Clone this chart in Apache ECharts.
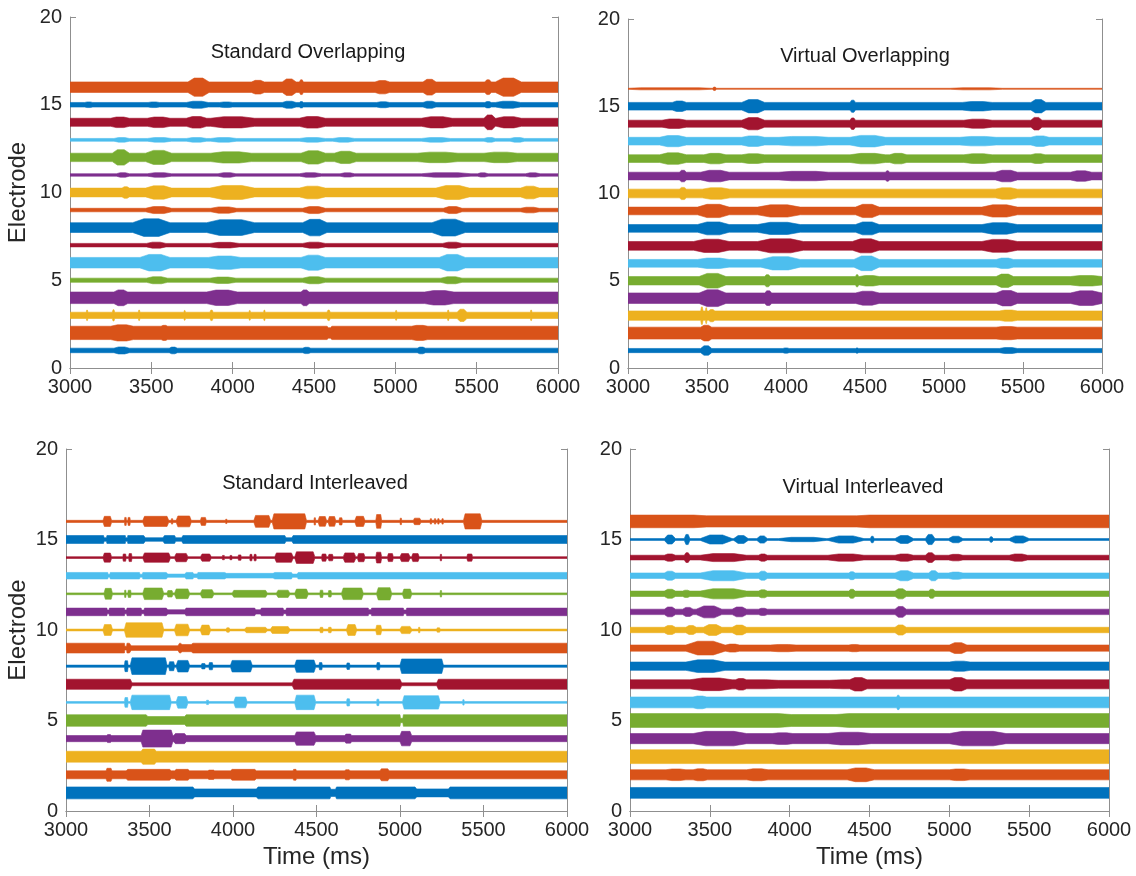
<!DOCTYPE html>
<html><head><meta charset="utf-8">
<script src="https://cdn.jsdelivr.net/npm/echarts@6/dist/echarts.min.js"></script>
<style>html,body{margin:0;padding:0;background:#fff}#c{width:1136px;height:876px}</style>
</head><body><div id="c"></div>
<script>
// ---------- axes / categories ----------
const ELECTRODES = [1,2,3,4,5,6,7,8,9,10,11,12,13,14,15,16];
const TIME_MIN = 3000, TIME_MAX = 6000, TIME_STEP = 500;
const ELEC_MIN = 0, ELEC_MAX = 20, ELEC_STEP = 5;
const PANEL_TITLES = ['Standard Overlapping', 'Virtual Overlapping', 'Standard Interleaved', 'Virtual Interleaved'];
const X_NAME = 'Time (ms)';
const Y_NAME = 'Electrode';
const COLORS = ['#0072BD', '#D95319', '#EDB120', '#7E2F8E', '#77AC30', '#4DBEEE', '#A2142F'];

// ---------- data: baseline half-amplitude per electrode (1..16) and bursts [t0, t1, halfAmplitude] ----------
// Standard Overlapping
const soBase = [0.13, 0.38, 0.18, 0.33, 0.12, 0.30, 0.10, 0.28, 0.10, 0.25, 0.07, 0.24, 0.08, 0.23, 0.13, 0.30];
const soBursts = [
  [[3270,3365,0.2],[3610,3660,0.19],[4430,4480,0.18],[5135,5185,0.19]],
  [[3250,3390,0.46],[3560,3600,0.43],[4580,4610,0.3],[5100,5200,0.43]],
  [[3100,3110,0.3],[3260,3275,0.32],[3420,3430,0.3],[3700,3710,0.28],[3860,3880,0.3],[4100,4110,0.28],[4190,4200,0.3],[4580,4600,0.3],[5000,5010,0.28],[5320,5330,0.3],[5380,5440,0.35],[5830,5840,0.3]],
  [[3270,3355,0.45],[3840,4030,0.44],[4420,4470,0.45],[5180,5360,0.41]],
  [[3470,3600,0.2],[3860,4020,0.18],[4430,4570,0.2],[5280,5410,0.2]],
  [[3430,3615,0.47],[3850,4050,0.38],[4420,4570,0.43],[5270,5430,0.47]],
  [[3470,3590,0.17],[3860,4040,0.16],[4430,4570,0.17],[5290,5410,0.17]],
  [[3385,3615,0.5],[3840,4135,0.45],[4430,4580,0.47],[5225,5430,0.48]],
  [[3465,3625,0.2],[3865,4025,0.18],[4430,4570,0.2],[5295,5410,0.2],[5770,5885,0.16]],
  [[3320,3365,0.33],[3465,3625,0.38],[3860,4135,0.4],[4410,4570,0.36],[5250,5455,0.4],[5770,5885,0.36]],
  [[3285,3365,0.13],[3475,3625,0.13],[3910,4020,0.13],[4410,4545,0.13],[4660,4750,0.12],[5160,5465,0.13],[5505,5570,0.12],[5800,5890,0.12]],
  [[3260,3365,0.44],[3465,3625,0.4],[3865,4115,0.32],[4420,4570,0.38],[4625,4760,0.35],[5135,5385,0.3],[5545,5750,0.3]],
  [[3270,3365,0.13],[3475,3625,0.13],[3715,3840,0.13],[3865,4025,0.13],[4410,4570,0.13],[4615,4750,0.13],[5160,5340,0.13],[5545,5615,0.13],[5705,5795,0.13]],
  [[3250,3365,0.3],[3475,3615,0.3],[3715,3840,0.33],[3865,4135,0.32],[4410,4570,0.33],[5160,5350,0.32],[5545,5615,0.42],[5620,5775,0.32]],
  [[3090,3140,0.16],[3480,3550,0.16],[3715,3850,0.2],[3920,4000,0.16],[4305,4390,0.2],[4410,4435,0.18],[4885,4965,0.17],[5170,5250,0.2],[5550,5590,0.18],[5615,5770,0.2]],
  [[3725,3855,0.52],[4115,4195,0.39],[4305,4390,0.47],[4410,4435,0.42],[4875,4965,0.38],[5170,5250,0.45],[5550,5590,0.42],[5615,5775,0.52]]
];

// Virtual Overlapping
const voBase = [0.12, 0.34, 0.27, 0.30, 0.24, 0.22, 0.25, 0.22, 0.22, 0.25, 0.22, 0.22, 0.22, 0.20, 0.22, 0.03];
const voBursts = [
  [[3460,3530,0.27],[3980,4020,0.15],[4440,4460,0.15],[5350,5465,0.17]],
  [[3460,3530,0.45],[5330,5465,0.38]],
  [[3460,3475,0.5],[3490,3500,0.45],[3510,3550,0.35],[5350,5465,0.32]],
  [[3450,3620,0.48],[3865,3910,0.42],[4440,4590,0.4],[5330,5465,0.44],[5800,6000,0.42]],
  [[3450,3620,0.42],[3865,3900,0.35],[4440,4460,0.35],[4465,4590,0.3],[5330,5440,0.38],[5800,6000,0.3]],
  [[3440,3640,0.3],[3840,4090,0.38],[4430,4590,0.42],[5330,5440,0.3]],
  [[3415,3640,0.38],[3820,4110,0.4],[4420,4590,0.4],[5240,5465,0.37]],
  [[3440,3640,0.37],[3820,4090,0.35],[4440,4590,0.37],[5240,5465,0.33]],
  [[3440,3640,0.38],[3820,4090,0.35],[4440,4590,0.38],[5240,5465,0.35]],
  [[3325,3370,0.35],[3470,3645,0.33],[5325,5465,0.33]],
  [[3325,3370,0.33],[3460,3640,0.33],[3955,4270,0.27],[4630,4655,0.3],[5325,5465,0.33],[5800,5935,0.3]],
  [[3200,3370,0.33],[3480,3620,0.3],[3720,3865,0.28],[4405,4630,0.3],[4655,4765,0.3],[5125,5305,0.28],[5550,5640,0.28]],
  [[3200,3370,0.32],[3720,3865,0.3],[3955,4270,0.27],[4405,4630,0.33],[5100,5330,0.27],[5550,5665,0.3]],
  [[3215,3370,0.27],[3720,3865,0.35],[4405,4440,0.33],[5125,5305,0.26],[5550,5620,0.36]],
  [[3280,3370,0.3],[3720,3865,0.38],[4405,4440,0.35],[5115,5305,0.27],[5550,5645,0.38]],
  [[3000,3530,0.06],[3535,3560,0.1],[5040,5370,0.06]]
];

// Standard Interleaved
const siBase = [0.33, 0.22, 0.30, 0.17, 0.32, 0.05, 0.28, 0.06, 0.27, 0.05, 0.21, 0.05, 0.18, 0.05, 0.22, 0.06];
const siBursts = [
  [[3760,4150,0.22],[4580,4620,0.2],[5090,5300,0.22]],
  [[3240,3275,0.36],[3360,3630,0.3],[3650,3740,0.3],[3850,3890,0.26],[3985,4140,0.3],[4360,4380,0.3],[4670,4700,0.28],[4880,4935,0.33]],
  [[3450,3540,0.42]],
  [[3245,3270,0.22],[3450,3640,0.47],[3645,3720,0.28],[4370,4495,0.37],[4670,4710,0.25],[5000,5070,0.4]],
  [[3480,3720,0.22],[5000,5020,0.12]],
  [[3350,3372,0.27],[3385,3630,0.4],[3660,3730,0.32],[3840,3855,0.12],[4005,4085,0.3],[4370,4495,0.4],[4680,4700,0.2],[4860,4875,0.18],[5015,5240,0.37],[5375,5385,0.15]],
  [[3385,4365,0.08],[5000,5230,0.08]],
  [[3350,3372,0.3],[3385,3605,0.46],[3615,3650,0.25],[3660,3740,0.32],[3810,3835,0.15],[3855,3880,0.2],[3985,4115,0.32],[4370,4495,0.34],[4515,4535,0.2],[4680,4700,0.18],[4860,4880,0.2],[5000,5260,0.4]],
  [[3350,3365,0.1],[3380,3680,0.13],[3685,3760,0.2]],
  [[3222,3278,0.3],[3350,3585,0.4],[3650,3740,0.32],[3805,3865,0.27],[3960,3980,0.12],[4070,4205,0.15],[4225,4340,0.19],[4520,4540,0.15],[4570,4590,0.15],[4680,4740,0.3],[4855,4890,0.26],[5000,5070,0.2],[5110,5120,0.15],[5220,5240,0.12]],
  [[3245,3260,0.1],[3350,3365,0.1],[3450,3470,0.1],[3600,3720,0.12],[4130,4170,0.12],[4300,4320,0.1],[4810,4830,0.12],[5020,5040,0.1]],
  [[3228,3278,0.3],[3350,3360,0.2],[3370,3390,0.2],[3460,3585,0.32],[3605,3640,0.18],[3650,3740,0.27],[3805,3885,0.23],[3995,4205,0.19],[4260,4340,0.2],[4370,4450,0.26],[4520,4540,0.2],[4570,4590,0.18],[4650,4780,0.32],[4860,4950,0.34],[5015,5070,0.26],[5240,5250,0.18]],
  [[3250,3265,0.08],[3440,3460,0.08],[3600,3720,0.09],[3760,3790,0.1],[3950,4250,0.13],[4350,4390,0.09]],
  [[3222,3273,0.25],[3340,3360,0.2],[3375,3395,0.22],[3460,3625,0.26],[3650,3730,0.23],[3805,3870,0.2],[3935,3950,0.12],[3980,3995,0.12],[4030,4050,0.15],[4100,4115,0.18],[4125,4140,0.18],[4250,4360,0.26],[4370,4490,0.32],[4530,4560,0.2],[4570,4600,0.18],[4660,4735,0.26],[4745,4790,0.23],[4855,4890,0.3],[4925,4960,0.22],[5000,5060,0.22],[5070,5115,0.22],[5240,5250,0.18],[5400,5435,0.2]],
  [[3225,3245,0.1],[3355,3370,0.1],[3465,3590,0.1],[3650,3700,0.1],[4310,4360,0.1]],
  [[3222,3273,0.28],[3350,3362,0.22],[3370,3385,0.22],[3460,3615,0.28],[3630,3640,0.15],[3660,3750,0.3],[3805,3840,0.22],[3955,3965,0.12],[4125,4225,0.33],[4235,4440,0.42],[4485,4495,0.2],[4510,4560,0.27],[4570,4615,0.27],[4635,4655,0.2],[4730,4790,0.28],[4855,4890,0.38],[5000,5010,0.18],[5080,5125,0.18],[5180,5190,0.15],[5205,5215,0.15],[5225,5235,0.15],[5250,5260,0.15],[5380,5490,0.42]]
];

// Virtual Interleaved
const viBase = [0.30, 0.28, 0.38, 0.28, 0.38, 0.30, 0.25, 0.23, 0.17, 0.15, 0.15, 0.15, 0.15, 0.13, 0.05, 0.35];
const viBursts = [
  [],
  [[3225,3350,0.32],[3395,3485,0.33],[3730,3865,0.33],[4360,4530,0.38],[5000,5130,0.32]],
  [],
  [[3395,3730,0.4],[3890,4020,0.32],[4240,4510,0.35],[5000,5355,0.4]],
  [[3930,4370,0.33]],
  [[3395,3480,0.35],[4670,4690,0.4]],
  [[3375,3640,0.35],[3660,3730,0.32],[3850,4330,0.22],[4375,4485,0.37],[5000,5110,0.37]],
  [[3350,3595,0.35],[5000,5130,0.28]],
  [[3350,3595,0.38],[3600,3685,0.22],[3880,4040,0.2],[4370,4440,0.2],[5000,5110,0.3]],
  [[3215,3285,0.25],[3350,3415,0.25],[3460,3575,0.3],[3640,3730,0.27],[4660,4730,0.28]],
  [[3215,3285,0.27],[3330,3395,0.25],[3415,3575,0.33],[3640,3730,0.27],[3805,3860,0.2],[4660,4730,0.3]],
  [[3215,3285,0.25],[3330,3375,0.2],[3440,3730,0.28],[3805,3860,0.22],[4370,4410,0.25],[4660,4730,0.28],[4870,4910,0.25]],
  [[3215,3285,0.25],[3440,3730,0.28],[3805,3860,0.25],[4370,4410,0.22],[4660,4775,0.28],[4870,4930,0.28],[4995,5085,0.2]],
  [[3215,3285,0.2],[3340,3375,0.27],[3440,3730,0.22],[3805,3860,0.2],[4240,4465,0.2],[4660,4775,0.2],[4850,4910,0.27],[4995,5085,0.18],[5375,5490,0.2]],
  [[3215,3285,0.25],[3340,3375,0.28],[3440,3640,0.25],[3650,3740,0.22],[3795,3860,0.2],[3930,4230,0.12],[4240,4465,0.2],[4505,4530,0.18],[4660,4775,0.22],[4850,4910,0.28],[4995,5085,0.18],[5250,5275,0.15],[5375,5500,0.2]],
  [[3400,4500,0.31]]
];

// ---------- layout (styles, not data) ----------
const GRIDS = [
  {left: 70, top: 17, width: 488, height: 351},
  {left: 628, top: 19, width: 474, height: 349},
  {left: 66, top: 449, width: 501, height: 362},
  {left: 630, top: 449, width: 479, height: 362}
];
const PANELS = [
  {base: soBase, bursts: soBursts, rampFrac: 0.3, rampCap: 80},
  {base: voBase, bursts: voBursts, rampFrac: 0.3, rampCap: 80},
  {base: siBase, bursts: siBursts, rampFrac: 0.15, rampCap: 10},
  {base: viBase, bursts: viBursts, rampFrac: 0.3, rampCap: 80}
];
const FONT = '"Liberation Sans", Arial, Helvetica, sans-serif';
const AX_COLOR = '#8f8f8f';
const TXT_COLOR = '#262626';

function makeRender(base, bursts, rampFrac, rampCap) {
  return function (params, api) {
    const e = api.value(0);
    const i = e - 1;
    const b = base[i];
    const segs = bursts[i].slice().sort((p, q) => p[0] - q[0]);
    const env = [[TIME_MIN, b]];
    segs.forEach(([t0, t1, h]) => {
      const r = Math.min((t1 - t0) * rampFrac, rampCap);
      env.push([t0, b], [t0 + r, h], [t1 - r, h], [t1, b]);
    });
    env.push([TIME_MAX, b]);
    const top = env.map(([t, h]) => api.coord([t, e + h]));
    const bot = env.slice().reverse().map(([t, h]) => api.coord([t, e - h]));
    const c = COLORS[i % COLORS.length];
    return {
      type: 'polygon',
      shape: {points: top.concat(bot)},
      style: {fill: c, stroke: c, lineWidth: 0.6}
    };
  };
}

const fmt = v => String(v);
const xAxes = [], yAxes = [], series = [], graphics = [];
GRIDS.forEach((g, p) => {
  const bottomRow = p >= 2, leftCol = p % 2 === 0;
  xAxes.push({
    gridIndex: p, type: 'value', min: TIME_MIN, max: TIME_MAX, interval: TIME_STEP, position: 'bottom',
    name: bottomRow ? X_NAME : '', nameLocation: 'middle', nameGap: 34,
    nameTextStyle: {fontFamily: FONT, fontSize: 24, color: TXT_COLOR},
    axisLine: {show: true, lineStyle: {color: AX_COLOR}},
    axisTick: {show: true, inside: true, length: 6, lineStyle: {color: AX_COLOR}},
    axisLabel: {fontFamily: FONT, fontSize: 20, color: TXT_COLOR, margin: 9, formatter: fmt},
    splitLine: {show: false}
  });
  yAxes.push({
    gridIndex: p, type: 'value', min: ELEC_MIN, max: ELEC_MAX, interval: ELEC_STEP, position: 'left',
    name: leftCol ? Y_NAME : '', nameLocation: 'middle', nameGap: p === 0 ? 40 : 36,
    nameTextStyle: {fontFamily: FONT, fontSize: 24, color: TXT_COLOR},
    axisLine: {show: true, lineStyle: {color: AX_COLOR}},
    axisTick: {show: true, inside: true, length: 6, lineStyle: {color: AX_COLOR}},
    axisLabel: {fontFamily: FONT, fontSize: 20, color: TXT_COLOR, margin: 8, formatter: fmt},
    splitLine: {show: false}
  });
});
GRIDS.forEach((g, p) => {
  xAxes.push({
    gridIndex: p, type: 'value', min: TIME_MIN, max: TIME_MAX, interval: TIME_STEP, position: 'top',
    axisLine: {show: true, lineStyle: {color: AX_COLOR}},
    axisTick: {show: true, inside: true, length: 6, lineStyle: {color: AX_COLOR}},
    axisLabel: {show: false}, splitLine: {show: false}
  });
  yAxes.push({
    gridIndex: p, type: 'value', min: ELEC_MIN, max: ELEC_MAX, interval: ELEC_STEP, position: 'right',
    axisLine: {show: true, lineStyle: {color: AX_COLOR}},
    axisTick: {show: true, inside: true, length: 6, lineStyle: {color: AX_COLOR}},
    axisLabel: {show: false}, splitLine: {show: false}
  });
});
PANELS.forEach((pn, p) => {
  series.push({
    type: 'custom', xAxisIndex: p, yAxisIndex: p, silent: true, clip: true,
    data: ELECTRODES.map(e => [e]),
    renderItem: makeRender(pn.base, pn.bursts, pn.rampFrac, pn.rampCap),
    z: 2
  });
});
const TITLE_POS = [[308, 52], [865, 56], [315, 483], [863, 487]];
PANEL_TITLES.forEach((t, p) => {
  graphics.push({
    type: 'text', x: TITLE_POS[p][0], y: TITLE_POS[p][1], z: 10,
    style: {text: t, font: '20px ' + FONT, fill: '#1a1a1a', align: 'center', verticalAlign: 'middle'}
  });
});

const chart = echarts.init(document.getElementById('c'), null, {renderer: 'canvas'});
chart.setOption({
  backgroundColor: '#ffffff',
  animation: false,
  grid: GRIDS.map(g => Object.assign({show: false, containLabel: false}, g)),
  xAxis: xAxes,
  yAxis: yAxes,
  series: series,
  graphic: graphics
});
</script></body></html>
